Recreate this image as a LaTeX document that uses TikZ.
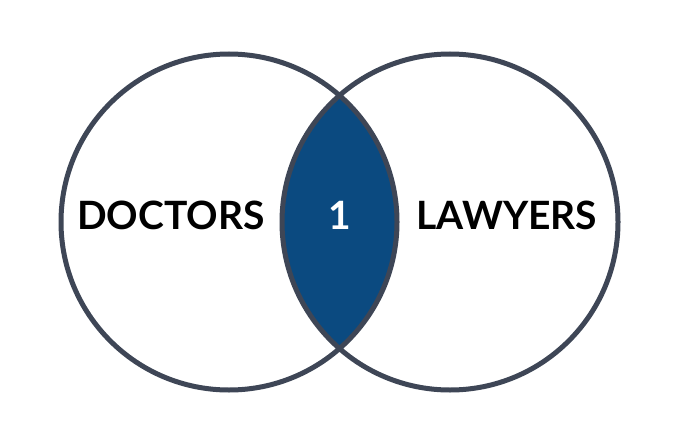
\documentclass[tikz,border=0pt]{standalone}
\usepackage{fontspec}
\setmainfont{Lato}
\definecolor{ring}{HTML}{3E4656}
\definecolor{lens}{HTML}{0B4A80}
\begin{document}
\begin{tikzpicture}[x=1pt,y=-1pt,
  ring/.style={draw=ring,line width=5pt},
  lbl/.style={font=\fontsize{39}{39}\selectfont\bfseries,text=black}]
\useasboundingbox[fill=white] (0,0) rectangle (679,444);
\begin{scope}
  \clip (229,222) circle (168);
  \fill[lens] (450,222) circle (168);
\end{scope}
\draw[ring] (229,222) circle (168);
\draw[ring] (450,222) circle (168);
\node[lbl] (d) at (171,215) {DOCTORS};
\node[lbl] (l) at (507,215) {LAWYERS};
\node[lbl,text=white] (one) at (340,215) {1};
\end{tikzpicture}
\end{document}
